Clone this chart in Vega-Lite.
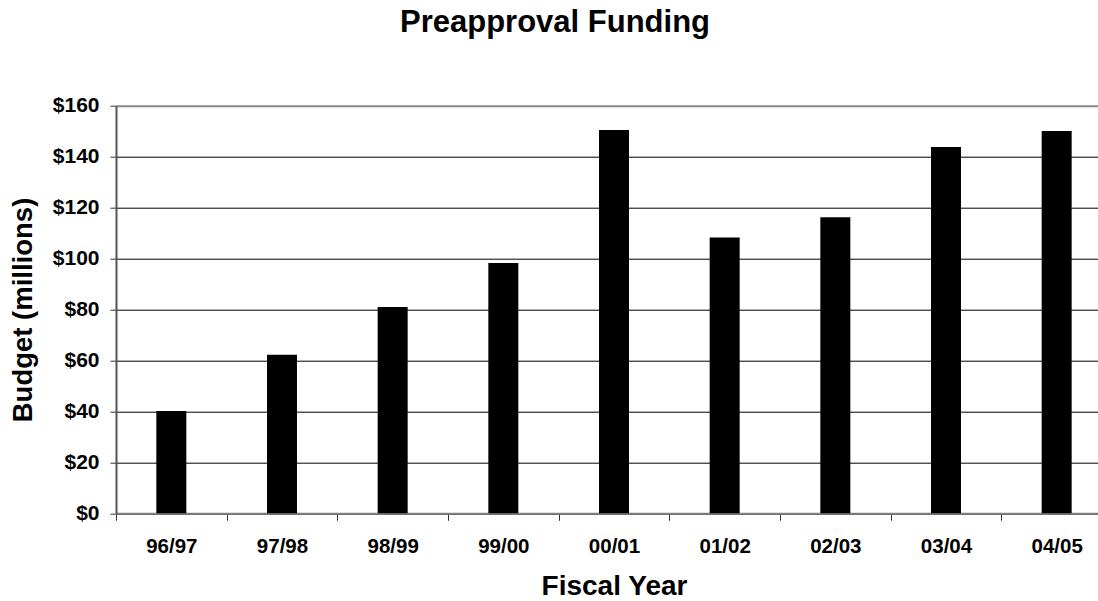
{
  "$schema": "https://vega.github.io/schema/vega-lite/v6.json",
  "autosize": {"type": "none"},
  "padding": {"left": 116, "top": 105.7, "right": 0, "bottom": 87.7},
  "width": 982,
  "height": 407.6,
  "background": "white",
  "title": {
    "text": "Preapproval Funding",
    "font": "Liberation Sans",
    "fontSize": 31,
    "fontWeight": "bold",
    "color": "black",
    "anchor": "middle",
    "frame": "group",
    "dx": -52,
    "baseline": "alphabetic",
    "offset": 32
  },
  "data": {
    "values": [
      {"year": "96/97", "budget": 40.2},
      {"year": "97/98", "budget": 62.2},
      {"year": "98/99", "budget": 81},
      {"year": "99/00", "budget": 98.3},
      {"year": "00/01", "budget": 150.5},
      {"year": "01/02", "budget": 108.3},
      {"year": "02/03", "budget": 116.2},
      {"year": "03/04", "budget": 143.8},
      {"year": "04/05", "budget": 150.1}
    ]
  },
  "config": {
    "view": {"stroke": null},
    "axis": {
      "labelFont": "Liberation Sans",
      "titleFont": "Liberation Sans",
      "labelColor": "black",
      "titleColor": "black",
      "labelFontWeight": "bold",
      "titleFontWeight": "bold"
    }
  },
  "mark": {"type": "bar", "color": "black", "size": 30},
  "encoding": {
    "x": {
      "field": "year",
      "type": "nominal",
      "sort": null,
      "scale": {"range": [0, 996], "paddingInner": 0, "paddingOuter": 0},
      "axis": {
        "title": "Fiscal Year",
        "titleFontSize": 28,
        "titlePadding": 16,
        "titleX": 498,
        "labelFontSize": 20.5,
        "labelAngle": 0,
        "labelPadding": 16,
        "tickBand": "extent",
        "tickSize": 7,
        "tickColor": "#333",
        "domainColor": "#808080",
        "domainWidth": 2,
        "grid": false
      }
    },
    "y": {
      "field": "budget",
      "type": "quantitative",
      "scale": {"domain": [0, 160], "nice": false},
      "axis": {
        "title": "Budget (millions)",
        "titleFontSize": 27.5,
        "titlePadding": 15,
        "values": [0, 20, 40, 60, 80, 100, 120, 140, 160],
        "labelExpr": "'$' + datum.value",
        "labelFontSize": 21,
        "labelPadding": 11,
        "tickSize": 6,
        "tickColor": "#333",
        "domainColor": "#555",
        "domainWidth": 2,
        "grid": true,
        "gridColor": {"condition": {"test": "datum.value == 160", "value": "#888"}, "value": "black"},
        "gridWidth": {"condition": {"test": "datum.value == 160", "value": 2}, "value": 1},
        "gridOpacity": 1
      }
    }
  }
}
